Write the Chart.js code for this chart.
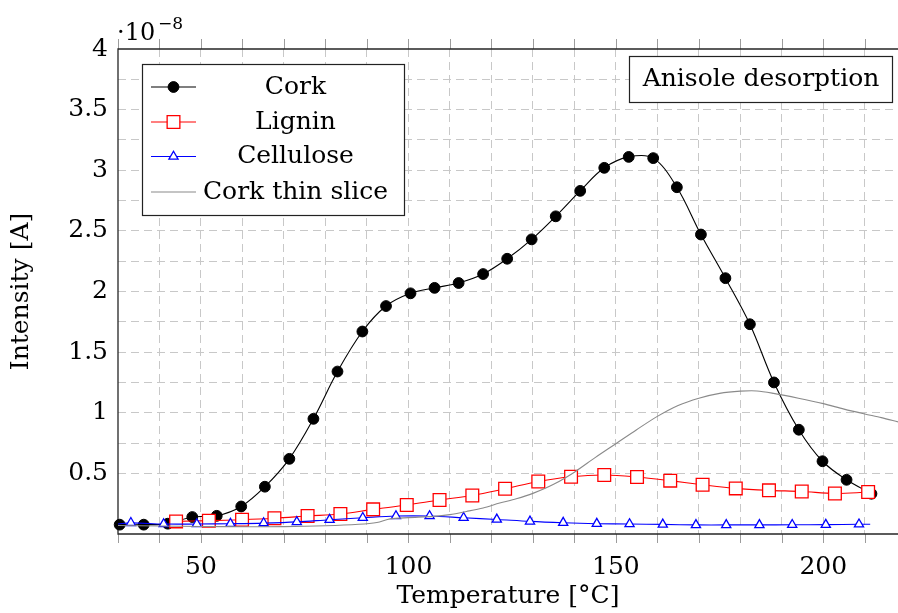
<!DOCTYPE html>
<html>
<head>
<meta charset="utf-8">
<title>Anisole desorption</title>
<script src="https://cdn.jsdelivr.net/npm/chart.js@4.4.0/dist/chart.umd.min.js"></script>
<style>
  html, body { margin: 0; padding: 0; background: #ffffff; }
  #wrap { width: 898px; height: 613px; }
</style>
</head>
<body>
<div id="wrap"><canvas id="c" width="898" height="613"></canvas></div>
<script>
// Temperature in °C, intensity in units of 1e-8 A
const corkT = [30.4, 36.2, 42.0, 47.9, 53.8, 59.7, 65.4, 71.3, 77.1, 82.9, 88.9, 94.6, 100.5, 106.3, 112.1, 118.0,
               123.8, 129.7, 135.5, 141.4, 147.2, 153.1, 159.0, 164.7, 170.5, 176.4, 182.3, 188.1, 194.1, 199.8, 205.6, 211.6];
const corkI = [0.077, 0.077, 0.085, 0.14, 0.15, 0.227, 0.39, 0.62, 0.95, 1.34, 1.67, 1.88, 1.985, 2.03, 2.07, 2.144,
               2.27, 2.43, 2.62, 2.83, 3.02, 3.11, 3.10, 2.86, 2.47, 2.11, 1.73, 1.25, 0.86, 0.60, 0.447, 0.332];

const ligninT = [44.0, 51.9, 59.9, 67.7, 75.7, 83.6, 91.5, 99.6, 107.5, 115.4, 123.3, 131.3, 139.2, 147.2, 155.1,
                 163.1, 170.9, 178.9, 186.9, 194.8, 202.8, 210.8];
const ligninI = [0.104, 0.11, 0.118, 0.13, 0.148, 0.165, 0.203, 0.239, 0.28, 0.318, 0.373, 0.433, 0.472, 0.486, 0.47,
                 0.44, 0.406, 0.376, 0.36, 0.351, 0.334, 0.346];

// first and last samples carry no marker
const celluloseT = [30.0, 33.1, 41.0, 49.0, 57.1, 65.1, 73.1, 81.0, 89.0, 97.0, 105.1, 113.3, 121.3, 129.3, 137.3,
                    145.4, 153.3, 161.3, 169.3, 176.6, 184.6, 192.5, 200.6, 208.6, 211.3];
const celluloseI = [0.082, 0.092, 0.082, 0.082, 0.085, 0.09, 0.10, 0.118, 0.134, 0.148, 0.148, 0.134, 0.12, 0.104, 0.093,
                    0.085, 0.082, 0.079, 0.075, 0.075, 0.075, 0.076, 0.077, 0.08, 0.08];

const sliceT = [30, 40, 50, 60, 70, 80, 88, 92.4, 95.6, 100, 106, 110, 114, 118, 122, 126, 130, 135, 140, 145, 150,
                155, 160, 165, 170, 175, 180, 184, 188, 194, 200, 205, 210, 214, 218];
const sliceI = [0.07, 0.066, 0.062, 0.06, 0.061, 0.068, 0.08, 0.095, 0.125, 0.135, 0.145, 0.16, 0.186, 0.215, 0.255,
                0.29, 0.335, 0.41, 0.51, 0.63, 0.745, 0.86, 0.97, 1.06, 1.12, 1.16, 1.178, 1.18, 1.16, 1.12, 1.075,
                1.03, 0.99, 0.96, 0.925];

const seriesNames = ['Cork', 'Lignin', 'Cellulose', 'Cork thin slice'];

// axis ticks
const tempTicks = [30, 40, 50, 60, 70, 80, 90, 100, 110, 120, 130, 140, 150, 160, 170, 180, 190, 200, 210];
const tempLabels = ['50', '100', '150', '200'];
const intensityTicks = [0.5, 0.75, 1, 1.25, 1.5, 1.75, 2, 2.25, 2.5, 2.75, 3, 3.25, 3.5, 3.75, 4];
const intensityLabels = ['0.5', '1', '1.5', '2', '2.5', '3', '3.5', '4'];

const FONT = "'DejaVu Serif', serif";
const pts = (xs, ys) => xs.map((x, i) => ({ x: x, y: ys[i] }));

// tick marks above/below the plot and the axis frame (right side runs off the canvas)
const frameAndTicks = {
  id: 'frameAndTicks',
  beforeDatasetsDraw(chart) {
    const { ctx, chartArea: a, scales: { x } } = chart;
    ctx.save();
    ctx.strokeStyle = '#9c9c9c';
    ctx.lineWidth = 1;
    ctx.beginPath();
    tempTicks.forEach(v => {
      const px = Math.round(x.getPixelForValue(v)) + 0.5;
      ctx.moveTo(px, a.top - 10); ctx.lineTo(px, a.top);
      ctx.moveTo(px, a.bottom); ctx.lineTo(px, a.bottom + 9);
    });
    ctx.stroke();
    ctx.strokeStyle = '#262626';
    ctx.lineWidth = 1.3;
    ctx.beginPath();
    ctx.moveTo(a.right + 2, a.top); ctx.lineTo(a.left, a.top);
    ctx.lineTo(a.left, a.bottom); ctx.lineTo(a.right + 2, a.bottom);
    ctx.stroke();
    ctx.restore();
  }
};

const overlays = {
  id: 'overlays',
  afterDatasetsDraw(chart) {
    const { ctx } = chart;
    ctx.save();

    // legend box
    ctx.fillStyle = '#ffffff';
    ctx.fillRect(142, 64, 262, 151);
    ctx.strokeStyle = '#222222';
    ctx.lineWidth = 1.2;
    ctx.strokeRect(142.5, 64.5, 262, 151);
    const rows = [87, 122, 156.5, 192];
    chart.data.datasets.forEach((ds, i) => {
      const y = rows[i];
      ctx.strokeStyle = ds.borderColor;
      ctx.lineWidth = ds.borderWidth;
      ctx.beginPath(); ctx.moveTo(151, y); ctx.lineTo(196, y); ctx.stroke();
      if (ds.legendRadius) {
        ctx.fillStyle = ds.pointBackgroundColor;
        ctx.strokeStyle = ds.pointBorderColor;
        ctx.lineWidth = ds.pointBorderWidth;
        Chart.helpers.drawPoint(ctx, { pointStyle: ds.pointStyle, radius: ds.legendRadius, borderWidth: ds.pointBorderWidth, rotation: 0 }, 173.5, y);
      }
      ctx.fillStyle = '#000000';
      ctx.font = '25px ' + FONT;
      ctx.textAlign = 'center';
      ctx.textBaseline = 'middle';
      ctx.fillText(ds.label, 295.5, y);
    });

    // title box
    ctx.fillStyle = '#ffffff';
    ctx.fillRect(629, 56, 264, 47);
    ctx.strokeStyle = '#222222';
    ctx.lineWidth = 1.2;
    ctx.strokeRect(629.5, 56.5, 263, 46);
    ctx.fillStyle = '#000000';
    ctx.font = '25px ' + FONT;
    ctx.textAlign = 'center';
    ctx.textBaseline = 'middle';
    ctx.fillText('Anisole desorption', 761, 79);

    // axis multiplier
    ctx.textAlign = 'left';
    ctx.textBaseline = 'alphabetic';
    ctx.font = '24px ' + FONT;
    ctx.fillText('\u00B710', 117, 40);
    ctx.font = '17px ' + FONT;
    ctx.fillText('\u22128', 158, 29);
    ctx.restore();
  }
};

const gridColor = c => (c.tick && (c.tick.value === 30 || c.tick.value === 4)) ? 'rgba(0,0,0,0)' : '#c8c8c8';

new Chart(document.getElementById('c'), {
  type: 'scatter',
  data: {
    datasets: [
      {
        label: seriesNames[0], data: pts(corkT, corkI), showLine: true, tension: 0.35,
        borderColor: '#000000', borderWidth: 1.1,
        pointStyle: 'circle', pointRadius: 5.4, legendRadius: 5.4,
        pointBackgroundColor: '#000000', pointBorderColor: '#000000', pointBorderWidth: 1,
        clip: false, order: 4
      },
      {
        label: seriesNames[1], data: pts(ligninT, ligninI), showLine: true, tension: 0.35,
        borderColor: '#ff0000', borderWidth: 1.1,
        pointStyle: 'rect', pointRadius: 9, legendRadius: 9,
        pointBackgroundColor: '#ffffff', pointBorderColor: '#ff0000', pointBorderWidth: 1.3,
        clip: false, order: 3
      },
      {
        label: seriesNames[2], data: pts(celluloseT, celluloseI), showLine: true, tension: 0.35,
        borderColor: '#0000ff', borderWidth: 1.1,
        pointStyle: 'triangle',
        pointRadius: c => (c.dataIndex === 0 || c.dataIndex === celluloseT.length - 1) ? 0 : 5.3,
        legendRadius: 5.3,
        pointBackgroundColor: '#ffffff', pointBorderColor: '#0000ff', pointBorderWidth: 1.3,
        clip: false, order: 2
      },
      {
        label: seriesNames[3], data: pts(sliceT, sliceI), showLine: true, tension: 0.3,
        borderColor: '#8a8a8a', borderWidth: 1.1,
        pointRadius: 0, legendRadius: 0,
        order: 1
      }
    ]
  },
  options: {
    responsive: false,
    devicePixelRatio: 1,
    animation: false,
    events: [],
    layout: { autoPadding: false, padding: { top: 49, right: 0, bottom: 0, left: 0 } },
    plugins: { legend: { display: false }, tooltip: { enabled: false } },
    scales: {
      x: {
        type: 'linear', min: 30, max: 218,
        afterBuildTicks: s => { s.ticks = tempTicks.map(v => ({ value: v })); },
        afterFit: s => { s.height = 79; s.paddingLeft = 0; s.paddingRight = 0; },
        ticks: {
          autoSkip: false, maxRotation: 0, padding: 18, color: '#000000',
          font: { family: FONT, size: 25, lineHeight: 1.2 },
          callback: v => tempLabels.includes(String(v)) ? String(v) : ''
        },
        grid: { color: gridColor, lineWidth: 1, drawTicks: false },
        border: { display: false, dash: [8, 5] },
        title: {
          display: true, text: 'Temperature [°C]', color: '#000000',
          font: { family: FONT, size: 25, lineHeight: 1.2 }, padding: { top: 0, bottom: 2 }
        }
      },
      y: {
        type: 'linear', min: 0, max: 4,
        afterBuildTicks: s => { s.ticks = intensityTicks.map(v => ({ value: v })); },
        afterFit: s => { s.width = 118; s.paddingTop = 0; s.paddingBottom = 0; },
        ticks: {
          autoSkip: false, padding: 10, color: '#000000',
          font: { family: FONT, size: 25, lineHeight: 1.2 },
          callback: v => intensityLabels.includes(String(v)) ? String(v) : ''
        },
        grid: { color: gridColor, lineWidth: 1, drawTicks: false },
        border: { display: false, dash: [8, 5] },
        title: {
          display: true, text: 'Intensity [A]', color: '#000000',
          font: { family: FONT, size: 25, lineHeight: 1.2 }, padding: { top: 6, bottom: 0 }
        }
      }
    }
  },
  plugins: [frameAndTicks, overlays]
});
</script>
</body>
</html>
